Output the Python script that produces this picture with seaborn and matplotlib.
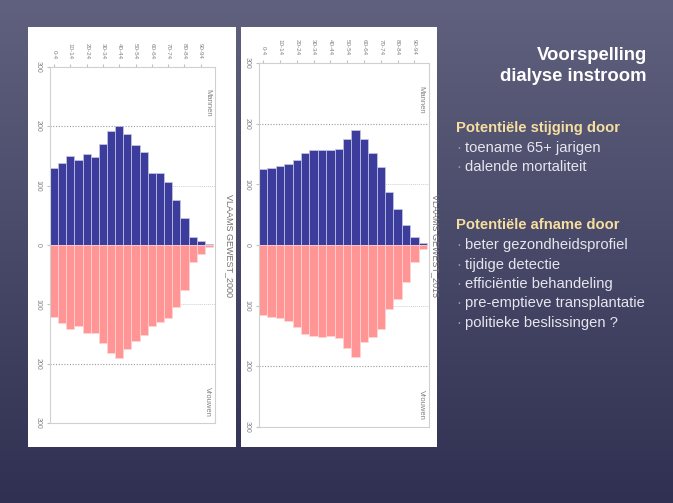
import numpy as np
import matplotlib
matplotlib.use("Agg")
import matplotlib.pyplot as plt
import seaborn as sns
from matplotlib.patches import Rectangle

plt.rcParams['font.family'] = ['Liberation Sans', 'DejaVu Sans']

W, H = 673, 503

# age groups (x axis of the rotated pyramids)
ages = ['0-4', '5-9', '10-14', '15-19', '20-24', '25-29', '30-34', '35-39',
        '40-44', '45-49', '50-54', '55-59', '60-64', '65-69', '70-74',
        '75-79', '80-84', '85-89', '90-94', '95-99']

# left pyramid
men_2000 = [129, 138, 150, 144, 154, 149, 170, 192, 200, 187,
            168, 156, 121, 121, 106, 75, 46, 14, 6, 1]
women_2000 = [122, 132, 141, 136, 148, 148, 165, 182, 191, 176,
              162, 152, 137, 129, 123, 104, 76, 29, 15, 3]

# right pyramid
men_2015 = [125, 127, 130, 134, 140, 152, 156, 156, 157, 159,
            175, 189, 175, 152, 129, 87, 60, 33, 13, 4]
women_2015 = [116, 119, 121, 126, 135, 146, 150, 151, 150, 153,
              170, 184, 160, 151, 138, 105, 89, 61, 28, 7]

value_ticks = [-300, -200, -100, 0, 100, 200, 300]
value_labels = ['300', '200', '100', '0', '100', '200', '300']

BLUE = '#3b3c9c'
PINK = '#ff9594'
GREY = '#808080'

fig = plt.figure(figsize=(W / 100, H / 100), dpi=100)

# slide background with vertical gradient, in pixel coordinates
bg = fig.add_axes([0, 0, 1, 1])
top_c = np.array([96, 97, 126]) / 255
bot_c = np.array([48, 48, 82]) / 255
t = np.linspace(0, 1, 256)[:, None, None]
grad = top_c * (1 - t) + bot_c * t
grad = np.repeat(grad, 2, axis=1)
bg.imshow(grad, extent=[0, W, H, 0], aspect='auto')
bg.set_xlim(0, W)
bg.set_ylim(H, 0)
bg.axis('off')

# white picture boxes
box1 = Rectangle((28, 27), 208, 420, facecolor='white', edgecolor='none')
box2 = Rectangle((241, 27), 196, 420, facecolor='white', edgecolor='none')
bg.add_patch(box1)
bg.add_patch(box2)


def px_axes(l, t, r, b):
    return fig.add_axes([l / W, 1 - b / H, (r - l) / W, (b - t) / H])


def pyramid(ax, men, women, title, title_x, box):
    sns.barplot(x=ages, y=men, color=BLUE, saturation=1, width=1,
                edgecolor='#c9c9e6', linewidth=0.5, errorbar=None, ax=ax)
    sns.barplot(x=ages, y=[-v for v in women], color=PINK, saturation=1, width=1,
                edgecolor='#ffd6d6', linewidth=0.5, errorbar=None, ax=ax)
    ax.set_xlim(-0.5, 19.75)
    ax.set_ylim(-300, 300)
    ax.set_xlabel('')
    ax.set_ylabel('')
    ax.set_facecolor('white')
    for v in (-100, 100):
        ax.axhline(v, color='#cfcfcf', lw=0.7, ls=(0, (1, 1)), zorder=0.5)
    for v in (-200, 200):
        ax.axhline(v, color='#9a9a9a', lw=0.8, ls=(0, (1, 1.5)), zorder=0.5)
    for s in ax.spines.values():
        s.set_color('#d0d0d0')
        s.set_linewidth(0.8)
    ax.set_yticks(value_ticks)
    ax.set_yticklabels(value_labels, rotation=270, fontsize=5, color=GREY,
                       va='center')
    ax.xaxis.tick_top()
    ax.set_xticks(range(0, 20, 2))
    ax.set_xticklabels(ages[::2], rotation=270, fontsize=4.5, color=GREY)
    ax.tick_params(axis='both', length=2, color='#c0c0c0', pad=4)
    ax.text(0.955, 0.9, 'Mannen', transform=ax.transAxes, rotation=270,
            fontsize=5.5, color=GREY, ha='center', va='center')
    ax.text(0.955, 0.06, 'Vrouwen', transform=ax.transAxes, rotation=270,
            fontsize=5.5, color=GREY, ha='center', va='center')
    txt = bg.text(title_x, 246, title, rotation=270, fontsize=6.5, color='#707070',
                  ha='center', va='center')
    txt.set_clip_path(box)


ax1 = px_axes(50, 67, 215, 423)
pyramid(ax1, men_2000, women_2000, 'VLAAMS GEWEST_2000', 229, box1)

ax2 = px_axes(259, 63, 429, 427)
pyramid(ax2, men_2015, women_2015, 'VLAAMS GEWEST_2015', 435, box2)

# slide text on the right
bg.text(647, 55, 'Voorspelling', color='white', fontsize=13.3, fontweight='bold',
        ha='right', va='center')
bg.text(647, 76, 'dialyse instroom', color='white', fontsize=13.3, fontweight='bold',
        ha='right', va='center')

HEAD = '#f6dea0'
BODY = '#e6e6ee'
BUL = '#9a9ab4'
FS = 10.6

bg.text(456, 128, 'Potentiële stijging door', color=HEAD, fontsize=FS,
        fontweight='bold', ha='left', va='center')
rise = ['toename 65+ jarigen', 'dalende mortaliteit']
for i, s in enumerate(rise):
    y = 148 + i * 19.2
    bg.text(456, y, '·', color=BUL, fontsize=FS, ha='left', va='center')
    bg.text(465, y, s, color=BODY, fontsize=FS, ha='left', va='center')

bg.text(456, 225, 'Potentiële afname door', color=HEAD, fontsize=FS,
        fontweight='bold', ha='left', va='center')
fall = ['beter gezondheidsprofiel', 'tijdige detectie', 'efficiëntie behandeling',
        'pre-emptieve transplantatie', 'politieke beslissingen ?']
for i, s in enumerate(fall):
    y = 245 + i * 19.5
    bg.text(456, y, '·', color=BUL, fontsize=FS, ha='left', va='center')
    bg.text(465, y, s, color=BODY, fontsize=FS, ha='left', va='center')

fig.savefig('out.png', dpi=100)
